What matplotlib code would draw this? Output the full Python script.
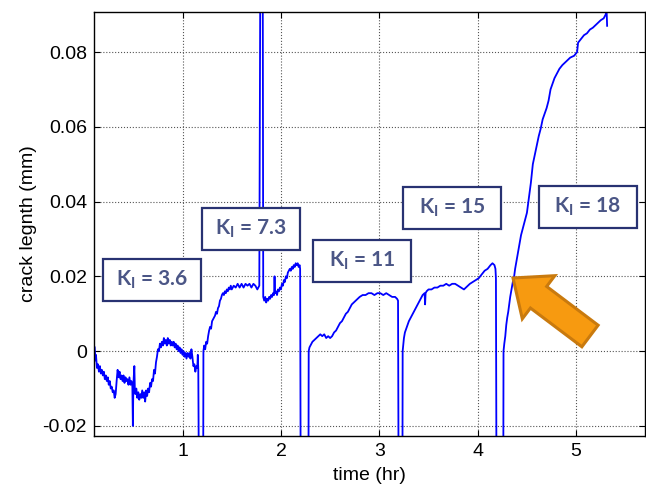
import matplotlib
matplotlib.use("Agg")
import matplotlib.pyplot as plt
import matplotlib.patches as mpatches
import numpy as np

plt.rcParams['font.family'] = ['Liberation Sans', 'DejaVu Sans']
plt.rcParams['mathtext.fontset'] = 'custom'
plt.rcParams['mathtext.bf'] = 'Lato:bold'
plt.rcParams['mathtext.rm'] = 'Lato:bold'

# time (hr) and crack length (x 0.001 mm)
# values of -30 / 100 are the off-scale drops and spikes
t_hr = [
    0.107, 0.115, 0.12, 0.13, 0.14, 0.15, 0.16, 0.17, 0.18, 0.19, 0.20, 0.21, 0.22, 0.23,
    0.24, 0.25, 0.26, 0.27, 0.28, 0.29, 0.30, 0.31, 0.32, 0.33, 0.34, 0.35, 0.36, 0.37,
    0.38, 0.39, 0.40, 0.41, 0.42, 0.43, 0.44, 0.45, 0.46, 0.47, 0.48, 0.49, 0.495, 0.50,
    0.51, 0.515, 0.52, 0.53, 0.54, 0.55, 0.56, 0.57, 0.58, 0.59, 0.60, 0.61, 0.62, 0.63,
    0.64, 0.65, 0.66, 0.67, 0.68, 0.69, 0.70, 0.71, 0.72, 0.73, 0.74, 0.75, 0.76, 0.77,
    0.78, 0.79, 0.80, 0.81, 0.82, 0.83, 0.84, 0.85, 0.86, 0.87, 0.88, 0.89, 0.90, 0.91,
    0.92, 0.93, 0.94, 0.95, 0.96, 0.97, 0.98, 0.99, 1.00, 1.01, 1.02, 1.03, 1.04, 1.05,
    1.06, 1.07, 1.08, 1.09, 1.10, 1.11, 1.12, 1.13, 1.14, 1.15, 1.155, 1.16, 1.165,
    1.21, 1.212,
    1.22, 1.23, 1.24, 1.25, 1.26, 1.27, 1.28, 1.29, 1.30, 1.31, 1.32, 1.33, 1.34, 1.35,
    1.36, 1.37, 1.38, 1.39, 1.40, 1.41, 1.42, 1.43, 1.44, 1.45, 1.46, 1.47, 1.48, 1.49,
    1.50, 1.52, 1.54, 1.56, 1.58, 1.60, 1.62, 1.64, 1.66, 1.68, 1.70, 1.72, 1.74, 1.76,
    1.78, 1.79, 1.815, 1.82, 1.83, 1.84, 1.85, 1.86, 1.87, 1.88, 1.89, 1.90, 1.91, 1.92,
    1.93, 1.935, 1.94, 1.95, 1.96, 1.97, 1.98, 1.99, 2.00, 2.01, 2.02, 2.03, 2.04, 2.05,
    2.06, 2.07, 2.08, 2.09, 2.10, 2.11, 2.12, 2.13, 2.14, 2.15, 2.16, 2.17, 2.18, 2.19,
    2.195, 2.20, 2.28, 2.282,
    2.29, 2.30, 2.31, 2.32, 2.34, 2.36, 2.38, 2.40, 2.42, 2.44, 2.46, 2.48, 2.50, 2.52,
    2.54, 2.56, 2.58, 2.60, 2.62, 2.64, 2.66, 2.68, 2.70, 2.72, 2.74, 2.76, 2.78, 2.80,
    2.83, 2.86, 2.89, 2.92, 2.95, 2.98, 3.01, 3.04, 3.07, 3.10, 3.13, 3.16, 3.18, 3.19,
    3.195, 3.235, 3.237,
    3.25, 3.26, 3.28, 3.30, 3.32, 3.34, 3.36, 3.38, 3.40, 3.42, 3.44, 3.46, 3.465, 3.47,
    3.48, 3.50, 3.53, 3.56, 3.59, 3.62, 3.65, 3.68, 3.71, 3.74, 3.77, 3.80, 3.83, 3.86,
    3.88, 3.90, 3.92, 3.95, 3.98, 4.01, 4.04, 4.07, 4.10, 4.13, 4.15, 4.17, 4.18, 4.185,
    4.19, 4.26, 4.262,
    4.27, 4.28, 4.29, 4.30, 4.31, 4.32, 4.33, 4.34, 4.35, 4.36, 4.37, 4.38, 4.40, 4.42,
    4.44, 4.46, 4.48, 4.50, 4.52, 4.54, 4.56, 4.58, 4.60, 4.62, 4.64, 4.66, 4.68, 4.70,
    4.72, 4.73, 4.74, 4.76, 4.78, 4.80, 4.83, 4.86, 4.90, 4.94, 4.98, 5.01, 5.02, 5.05,
    5.08, 5.11, 5.14, 5.17, 5.21, 5.25, 5.28, 5.30, 5.31, 5.315,
]
crack_um = [
    1.0, -2.5, -1.0, -4.5, -3.5, -5.5, -4.0, -6.0, -5.0, -6.5, -5.5, -7.5, -6.5, -8.0,
    -7.0, -9.0, -8.0, -10.0, -9.5, -11.0, -10.5, -12.5, -11.5, -8.0, -5.0, -7.0, -5.5, -7.5,
    -6.5, -8.0, -6.5, -8.5, -7.0, -8.0, -7.5, -9.0, -7.0, -9.0, -8.0, -9.5, -20.0, -9.0,
    -4.0, -10.0, -11.5, -10.0, -12.5, -11.0, -13.0, -11.5, -12.5, -10.5, -12.5, -11.0, -13.5, -10.5,
    -12.0, -10.0, -11.0, -8.5, -9.5, -7.5, -8.0, -5.0, -6.0, -3.0, -1.5, 0.5, 0.0, 2.0,
    1.0, 2.5, 1.5, 3.5, 2.0, 3.0, 1.5, 3.5, 2.0, 3.0, 1.5, 2.5, 1.5, 2.5,
    1.0, 2.0, 0.5, 1.5, 0.0, 1.0, -0.5, 0.5, -1.0, 0.0, -1.5, -0.5, -2.0, -0.5,
    -1.5, -0.5, -2.0, 0.5, -1.5, -4.0, -3.5, -5.5, -4.0, -4.5, -1.0, -5.0, -30,
    -30, 0.0,
    1.5, 0.5, 2.5, 2.0, 4.0, 5.5, 6.5, 6.0, 8.0, 8.5, 9.0, 9.5, 10.5, 10.0,
    11.5, 12.0, 13.5, 14.0, 15.0, 15.5, 15.0, 16.0, 15.5, 16.5, 16.0, 17.0, 16.5, 17.5,
    16.5, 17.5, 17.0, 18.0, 17.0, 18.0, 17.0, 18.0, 17.5, 18.0, 17.0, 18.0, 17.5, 16.5,
    17.5, 100, 100, 14.5, 13.5, 14.5, 13.0, 14.0, 13.5, 14.5, 14.0, 15.0, 14.5, 15.5,
    15.0, 20.0, 15.5, 16.0, 15.0, 16.5, 16.0, 17.0, 16.5, 18.0, 17.5, 19.0, 18.5, 20.0,
    19.5, 21.0, 21.5, 22.0, 21.5, 22.5, 22.0, 23.0, 22.5, 23.5, 23.0, 23.5, 22.5, 23.0,
    22.0, -30, -30, 0.0,
    1.0, 1.5, 2.0, 2.5, 3.0, 3.5, 4.0, 4.5, 4.0, 4.5, 3.5, 4.0, 3.5, 4.0,
    5.0, 5.5, 6.5, 7.5, 8.0, 9.0, 10.0, 10.5, 11.5, 12.5, 13.0, 13.5, 14.0, 14.5,
    15.0, 15.0, 15.5, 15.5, 15.0, 15.5, 15.5, 15.0, 15.5, 15.0, 14.5, 14.5, 14.0, 13.5,
    -30, -30, 0.0,
    3.5, 5.0, 6.5, 8.0, 9.0, 10.0, 11.0, 12.0, 13.0, 14.0, 15.0, 15.5, 12.5, 15.5,
    16.0, 16.5, 16.5, 17.0, 17.0, 17.5, 17.5, 18.0, 17.5, 18.0, 18.0, 17.5, 17.0, 16.5,
    17.0, 17.5, 18.0, 18.5, 19.0, 19.5, 20.5, 21.5, 22.0, 23.0, 23.5, 23.0, 22.0, 19.5,
    -30, -30, 0.0,
    2.0, 4.0, 7.0, 9.0, 10.5, 12.5, 14.5, 16.0, 17.5, 19.0, 20.0, 22.0, 25.0, 28.0,
    31.0, 33.0, 35.0, 37.0, 41.0, 45.0, 50.0, 52.5, 55.0, 57.5, 59.5, 62.0, 63.5, 65.0,
    67.0, 68.5, 70.0, 71.5, 73.0, 74.0, 75.5, 76.5, 77.5, 78.5, 79.0, 80.0, 82.5, 83.5,
    84.5, 85.0, 86.0, 86.5, 87.5, 88.5, 89.0, 90.0, 91.0, 87.0,
]

k_labels = ['3.6', '7.3', '11', '15', '18']
# box centres / sizes in figure pixels (from top-left)
box_centres = [(152, 280), (251, 229), (362, 261), (452, 208), (588, 207)]
box_size = (98, 42)

W, H = 646, 486
fig = plt.figure(figsize=(W / 100, H / 100), dpi=100)
ax = fig.add_axes([94 / W, 1 - 436 / H, 551 / W, 424 / H])

ax.plot(np.array(t_hr), np.array(crack_um) / 1000, color='#0000ff', lw=1.3)

ax.set_xlim(0.1, 5.7)
ax.set_ylim(-0.0227, 0.0907)
ax.set_xticks([1, 2, 3, 4, 5])
ax.set_yticks([-0.02, 0, 0.02, 0.04, 0.06, 0.08])
ax.set_yticklabels(['-0.02', '0', '0.02', '0.04', '0.06', '0.08'])
ax.tick_params(direction='in', length=4, width=0.8, top=True, right=True,
               labelsize=14, pad=5)
ax.grid(True, linestyle=':', color='#555555', lw=0.8)
for s in ax.spines.values():
    s.set_linewidth(1.0)

ax.set_xlabel('time (hr)', fontsize=14, labelpad=5)
ax.set_ylabel('crack legnth (mm)', fontsize=14, labelpad=4)

tr = fig.dpi_scale_trans
for lab, (cx, cy) in zip(k_labels, box_centres):
    bw, bh = box_size
    fig.patches.append(mpatches.Rectangle(((cx - bw / 2) / 100, (H - cy - bh / 2) / 100),
                                          bw / 100, bh / 100, transform=tr,
                                          facecolor='white', edgecolor='#283272', lw=1.6))
    fig.text(cx / 100, (H - cy) / 100, r'$\mathbf{K_I}$ = ' + lab, transform=tr,
             ha='center', va='center', fontsize=15, color='#4b5686',
             family='Lato', fontweight='bold')

# orange arrow pointing at the K=18 curve
fig.patches.append(mpatches.FancyArrow(5.90, (H - 336) / 100, -0.77, 0.58, width=0.27,
                                       head_width=0.54, head_length=0.32,
                                       length_includes_head=True, transform=tr,
                                       facecolor='#f79a10', edgecolor='#c97a0e', lw=2.2))

fig.savefig('out.png', dpi=100)
